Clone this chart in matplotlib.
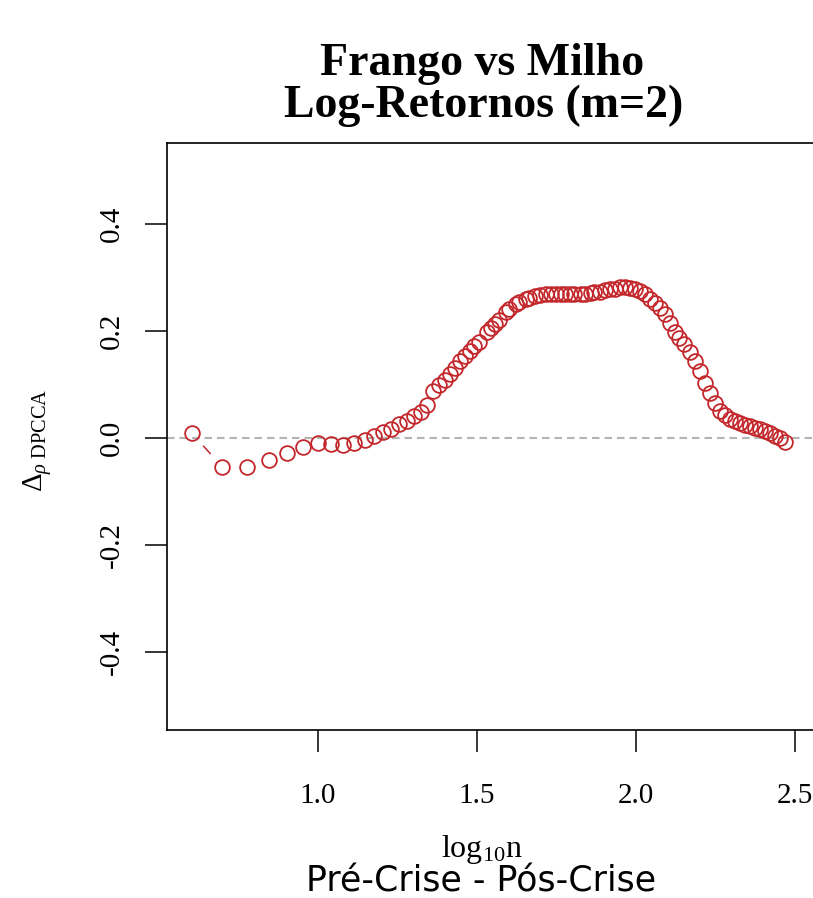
import numpy as np
import matplotlib
matplotlib.use("Agg")
import matplotlib.pyplot as plt

# escalas n usadas (inteiros ate 28, depois grade aproximadamente logaritmica)
n_vals = [
    4, 5, 6, 7, 8, 9, 10, 11, 12, 13, 14, 15, 16, 17, 18, 19, 20, 21, 22, 23,
    24, 25, 26, 27, 28, 29, 30, 31, 32, 34, 35, 36, 37, 39, 40, 42, 43, 45, 46, 48,
    50, 52, 54, 56, 58, 60, 62, 64, 67, 69, 72, 74, 77, 80, 83, 86, 89, 92, 96, 99,
    103, 107, 111, 115, 119, 123, 128, 133, 137, 142, 148, 153, 159, 165, 171, 177, 184, 190, 197, 205,
    212, 220, 228, 236, 245, 254, 263, 273, 283, 294,
]

# diferenca rho DPCCA (pre-crise - pos-crise) para cada n
rho_diff = [
    0.009, -0.054, -0.055, -0.041, -0.028, -0.017, -0.010, -0.011, -0.014, -0.010,
    -0.004, 0.003, 0.010, 0.017, 0.025, 0.032, 0.040, 0.049, 0.062, 0.088,
    0.098, 0.108, 0.119, 0.131, 0.143, 0.153, 0.162, 0.171, 0.180, 0.197,
    0.205, 0.213, 0.221, 0.235, 0.241, 0.250, 0.254, 0.260, 0.262, 0.265,
    0.267, 0.268, 0.269, 0.269, 0.269, 0.268, 0.268, 0.268, 0.268, 0.269,
    0.271, 0.272, 0.273, 0.276, 0.278, 0.279, 0.281, 0.281, 0.280, 0.278,
    0.274, 0.268, 0.260, 0.252, 0.242, 0.231, 0.214, 0.197, 0.186, 0.175,
    0.160, 0.144, 0.125, 0.103, 0.084, 0.066, 0.050, 0.043, 0.036, 0.032,
    0.028, 0.024, 0.022, 0.019, 0.016, 0.013, 0.009, 0.004, -0.001, -0.008,
]

x_ticks = [1.0, 1.5, 2.0, 2.5]
y_ticks = [-0.4, -0.2, 0.0, 0.2, 0.4]

plt.rcParams['font.family'] = ['Liberation Serif', 'DejaVu Serif']
plt.rcParams['mathtext.fontset'] = 'custom'
plt.rcParams['mathtext.rm'] = 'Liberation Serif'
plt.rcParams['mathtext.it'] = 'Liberation Serif:italic'

RED = '#C3272B'

fig = plt.figure(figsize=(8.13, 8.98), dpi=100)
W, H = 813.0, 898.0
# eixo estilo R: a borda direita fica fora da imagem
ax = fig.add_axes([167 / W, 1 - 730 / H, (816 - 167) / W, (730 - 143) / H])

x = np.log10(np.array(n_vals, dtype=float))
y = np.array(rho_diff)

ax.set_xlim(0.525, 2.566)
ax.set_ylim(-0.546, 0.551)

ax.axhline(0.0, color='#B4B4B4', lw=1.5, dashes=(3.6, 2.4), zorder=1)

ax.plot(x, y, linestyle='none', marker='o', markersize=10.6, markerfacecolor='none',
        markeredgecolor=RED, markeredgewidth=1.3, zorder=3)

# linhas do type="b": so aparecem onde os pontos estao afastados
fig.canvas.draw()
pts = ax.transData.transform(np.column_stack([x, y]))
gap = 18.0
for i in range(len(pts) - 1):
    p0, p1 = pts[i], pts[i + 1]
    d = np.hypot(*(p1 - p0))
    if d <= 2 * gap:
        continue
    u = (p1 - p0) / d
    a = ax.transData.inverted().transform([p0 + u * gap, p1 - u * gap])
    ax.plot(a[:, 0], a[:, 1], color=RED, lw=1.1, zorder=2)

ax.set_xticks(x_ticks)
ax.set_xticklabels(['%.1f' % v for v in x_ticks])
ax.set_yticks(y_ticks)
ax.set_yticklabels(['%.1f' % v for v in y_ticks])
ax.tick_params(axis='both', direction='out', length=16, width=1.1, labelsize=21)
ax.tick_params(axis='x', pad=22)
ax.tick_params(axis='y', pad=14, labelrotation=90)
for lab in ax.get_yticklabels():
    lab.set_va('center')
for s in ax.spines.values():
    s.set_linewidth(1.2)

fig.text(482 / W, 1 - 64 / H, 'Frango vs Milho', ha='center', va='center',
         fontsize=33, fontweight='bold')
fig.text(484 / W, 1 - 106 / H, 'Log-Retornos (m=2)', ha='center', va='center',
         fontsize=33, fontweight='bold')

fig.text(38 / W, 1 - 440 / H, r'$\mathrm{\Delta}_{\rho\ \mathrm{DPCCA}}$', rotation=90,
         ha='center', va='center', fontsize=21)
fig.text(482 / W, 1 - 849 / H, r'$\mathrm{log}_{10}\mathrm{n}$', ha='center', va='center',
         fontsize=23)
fig.text(481 / W, 1 - 881 / H, 'Pré-Crise - Pós-Crise', ha='center', va='center',
         fontsize=25, family=['DejaVu Sans'])

fig.savefig('out.png', dpi=100)
